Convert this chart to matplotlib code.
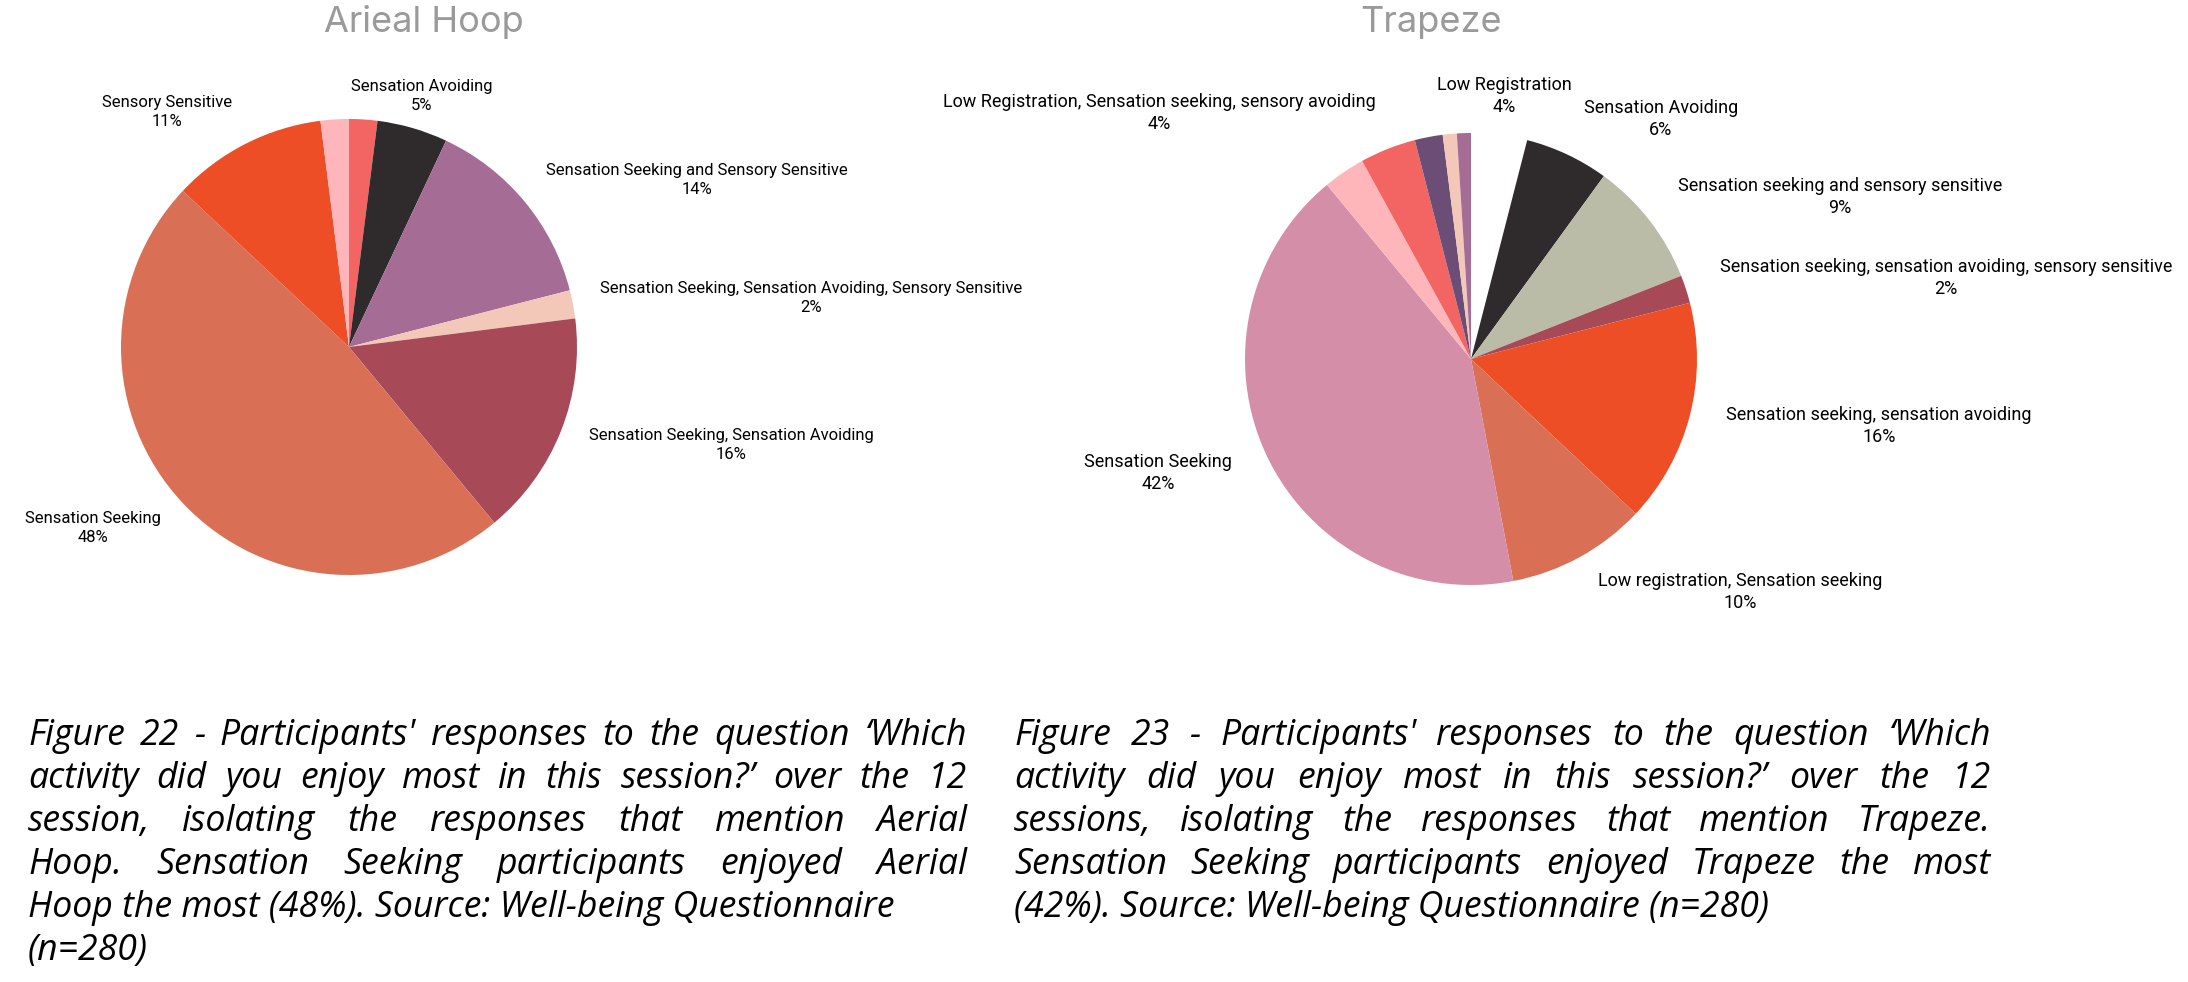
import matplotlib
matplotlib.use('Agg')
import matplotlib.pyplot as plt

# Datos: Arieal Hoop (sentido horario desde las 12)
hoop_labels = ['', 'Sensation Avoiding', 'Sensation Seeking and Sensory Sensitive',
               'Sensation Seeking, Sensation Avoiding, Sensory Sensitive',
               'Sensation Seeking, Sensation Avoiding', 'Sensation Seeking',
               'Sensory Sensitive', '']
hoop_values = [2, 5, 14, 2, 16, 48, 11, 2]
hoop_colors = ['#F26563', '#2F2B2C', '#A56C95', '#F4C8B9', '#A84958', '#D97056',
               '#EE4E25', '#FFB6BA']

# Datos: Trapeze
trap_labels = ['Low Registration', 'Sensation Avoiding', 'Sensation seeking and sensory sensitive',
               'Sensation seeking, sensation avoiding, sensory sensitive',
               'Sensation seeking, sensation avoiding', 'Low registration, Sensation seeking',
               'Sensation Seeking', '', 'Low Registration, Sensation seeking, sensory avoiding',
               '', '', '']
trap_values = [4, 6, 9, 2, 16, 10, 42, 3, 4, 2, 1, 1]
trap_colors = ['#FFFFFF', '#2F2B2C', '#BBBCA8', '#A84958', '#EE4E25', '#D97056',
               '#D58EA8', '#FFB6BA', '#F26563', '#6C4D76', '#F4C8B9', '#A56C95']

caption_left = [
    "Figure 22 - Participants' responses to the question \u2018Which",
    "activity did you enjoy most in this session?\u2019 over the 12",
    "session, isolating the responses that mention Aerial",
    "Hoop. Sensation Seeking participants enjoyed Aerial",
    "Hoop the most (48%). Source: Well-being Questionnaire",
    "(n=280)",
]
caption_right = [
    "Figure 23 - Participants' responses to the question \u2018Which",
    "activity did you enjoy most in this session?\u2019 over the 12",
    "sessions, isolating the responses that mention Trapeze.",
    "Sensation Seeking participants enjoyed Trapeze the most",
    "(42%). Source: Well-being Questionnaire (n=280)",
]

# Layout (pixeles de la imagen, y hacia abajo)
W, H = 2188, 982
hoop_pos = [None, (422, 96), (697, 180), (811, 298), (731, 445), (93, 528), (167, 112), None]
trap_pos = [(1504, 96), (1661, 119), (1840, 197), (1946, 278), (1879, 426), (1740, 592),
            (1158, 473), None, (1159, 113), None, None, None]

fig = plt.figure(figsize=(W / 100, H / 100), dpi=100)
ax = fig.add_axes([0, 0, 1, 1])


def Y(y):
    return H - y


def draw_pie(values, colors, labels, positions, center, radius, fsize):
    ax.pie(values, colors=colors, startangle=90, counterclock=False,
           center=(center[0], Y(center[1])), radius=radius,
           wedgeprops=dict(linewidth=0))
    for lab, val, pos in zip(labels, values, positions):
        if pos is None or lab == '':
            continue
        ax.text(pos[0], Y(pos[1]), f'{lab}\n{val}%', ha='center', va='center',
                multialignment='center', linespacing=1.35, fontsize=fsize,
                family=['Roboto', 'DejaVu Sans'], color='black')


draw_pie(hoop_values, hoop_colors, hoop_labels, hoop_pos, (349, 347), 228, 12)
draw_pie(trap_values, trap_colors, trap_labels, trap_pos, (1471, 359), 226, 13)

ax.text(424, Y(32), 'Arieal Hoop', ha='center', va='baseline', fontsize=26,
        family=['Inter', 'DejaVu Sans'], color='#9A9A9A')
ax.text(1431, Y(32), 'Trapeze', ha='center', va='baseline', fontsize=26,
        family=['Inter', 'DejaVu Sans'], color='#9A9A9A')


def draw_justified(lines, x0, x1, y0, step, n_just):
    kw = dict(fontsize=25.7, style='italic', family=['Open Sans', 'DejaVu Sans'], color='black')
    renderer = fig.canvas.get_renderer()
    for i, line in enumerate(lines):
        y = Y(y0 + i * step)
        if i >= n_just:
            ax.text(x0, y, line, ha='left', va='baseline', **kw)
            continue
        words = line.split(' ')
        widths = []
        for w in words:
            t = ax.text(0, 0, w, **kw)
            widths.append(t.get_window_extent(renderer).width)
            t.remove()
        gap = (x1 - x0 - sum(widths)) / (len(words) - 1)
        x = x0
        for w, wd in zip(words, widths):
            ax.text(x, y, w, ha='left', va='baseline', **kw)
            x += wd + gap


draw_justified(caption_left, 28, 967, 745, 43, 4)
draw_justified(caption_right, 1014, 1991, 745, 43, 4)

ax.set_xlim(0, W)
ax.set_ylim(0, H)
ax.set_aspect('equal')
ax.axis('off')

fig.savefig('out.png', dpi=100)
